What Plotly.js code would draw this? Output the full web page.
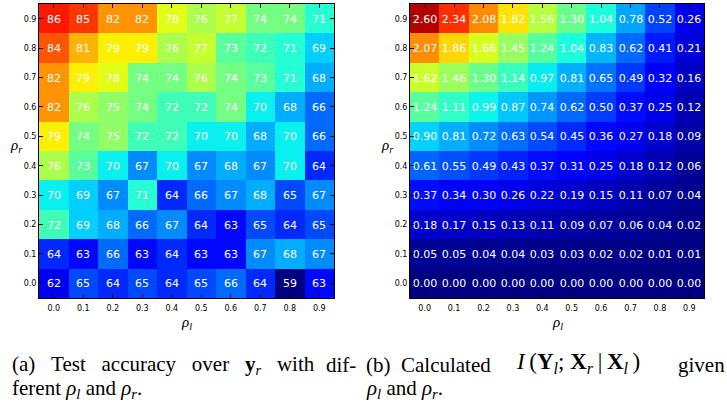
<!DOCTYPE html>
<html>
<head>
<meta charset="utf-8">
<script src="https://cdn.plot.ly/plotly-3.0.1.min.js"></script>
<style>html,body{margin:0;padding:0;background:#fff;}#chart{width:727px;height:404px;}</style>
</head>
<body>
<div id="chart"></div>
<script>
// rho_l values (columns) and rho_r values (rows, listed top to bottom)
var rhoL = [0.0, 0.1, 0.2, 0.3, 0.4, 0.5, 0.6, 0.7, 0.8, 0.9];
var rhoR = [0.9, 0.8, 0.7, 0.6, 0.5, 0.4, 0.3, 0.2, 0.1, 0.0];

// (a) Test accuracy over y_r
var accuracy = [
  [86, 85, 82, 82, 78, 76, 77, 74, 74, 71],
  [84, 81, 79, 79, 76, 77, 73, 72, 71, 69],
  [82, 79, 78, 74, 74, 76, 74, 73, 71, 68],
  [82, 76, 75, 74, 72, 72, 74, 70, 68, 66],
  [79, 74, 75, 72, 72, 70, 70, 68, 70, 66],
  [76, 73, 70, 67, 70, 67, 68, 67, 70, 64],
  [70, 69, 67, 71, 64, 66, 67, 68, 65, 67],
  [72, 69, 68, 66, 67, 64, 63, 65, 64, 65],
  [64, 63, 66, 63, 64, 63, 63, 67, 68, 67],
  [62, 65, 64, 65, 64, 65, 66, 64, 59, 63]
];

// (b) Calculated I(Y_l; X_r | X_l)
var mutualInfo = [
  [2.60, 2.34, 2.08, 1.82, 1.56, 1.30, 1.04, 0.78, 0.52, 0.26],
  [2.07, 1.86, 1.66, 1.45, 1.24, 1.04, 0.83, 0.62, 0.41, 0.21],
  [1.62, 1.46, 1.30, 1.14, 0.97, 0.81, 0.65, 0.49, 0.32, 0.16],
  [1.24, 1.11, 0.99, 0.87, 0.74, 0.62, 0.50, 0.37, 0.25, 0.12],
  [0.90, 0.81, 0.72, 0.63, 0.54, 0.45, 0.36, 0.27, 0.18, 0.09],
  [0.61, 0.55, 0.49, 0.43, 0.37, 0.31, 0.25, 0.18, 0.12, 0.06],
  [0.37, 0.34, 0.30, 0.26, 0.22, 0.19, 0.15, 0.11, 0.07, 0.04],
  [0.18, 0.17, 0.15, 0.13, 0.11, 0.09, 0.07, 0.06, 0.04, 0.02],
  [0.05, 0.05, 0.04, 0.04, 0.03, 0.03, 0.02, 0.02, 0.01, 0.01],
  [0.00, 0.00, 0.00, 0.00, 0.00, 0.00, 0.00, 0.00, 0.00, 0.00]
];

var tickLabels = ['0.0', '0.1', '0.2', '0.3', '0.4', '0.5', '0.6', '0.7', '0.8', '0.9'];

// matplotlib "jet"
var jet = [
  [0, 'rgb(0,0,128)'], [0.11, 'rgb(0,0,255)'], [0.125, 'rgb(0,0,255)'],
  [0.34, 'rgb(0,219,255)'], [0.35, 'rgb(0,230,247)'], [0.375, 'rgb(21,255,226)'],
  [0.64, 'rgb(239,255,8)'], [0.65, 'rgb(247,245,0)'], [0.66, 'rgb(255,236,0)'],
  [0.89, 'rgb(255,19,0)'], [0.91, 'rgb(232,0,0)'], [1, 'rgb(128,0,0)']
];

var cellFont = {family: 'DejaVu Sans', size: 11, color: 'white'};

var traces = [
  {
    type: 'heatmap', x: rhoL, y: rhoR, z: accuracy,
    colorscale: jet, zmin: 59, zmax: 89.5, showscale: false,
    texttemplate: '%{z}', textfont: cellFont, hoverinfo: 'none',
    xaxis: 'x', yaxis: 'y'
  },
  {
    type: 'heatmap', x: rhoL, y: rhoR, z: mutualInfo,
    colorscale: jet, zmin: 0, zmax: 2.72, showscale: false,
    texttemplate: '%{z:.2f}', textfont: cellFont, hoverinfo: 'none',
    xaxis: 'x2', yaxis: 'y2'
  }
];

function ax(domain, anchor) {
  return {
    domain: domain, anchor: anchor, range: [-0.05, 0.95],
    tickvals: rhoL, ticktext: tickLabels,
    ticks: 'inside', ticklen: 4, tickcolor: 'black', tickwidth: 1,
    showline: true, linecolor: 'black', linewidth: 1, mirror: 'ticks',
    showgrid: false, zeroline: false,
    tickfont: {family: 'DejaVu Sans', size: 8, color: 'black'}
  };
}

var yTop = 1 - 4 / 404, yBot = 1 - 298 / 404;
var layout = {
  width: 727, height: 404,
  margin: {l: 0, r: 0, t: 0, b: 0},
  paper_bgcolor: 'white', plot_bgcolor: 'white',
  showlegend: false,
  xaxis: ax([39 / 727, 334 / 727], 'y'),
  yaxis: ax([yBot, yTop], 'x'),
  xaxis2: ax([410 / 727, 704 / 727], 'y2'),
  yaxis2: ax([yBot, yTop], 'x2'),
  annotations: []
};
layout.xaxis.ticklabelstandoff = 2;
layout.xaxis2.ticklabelstandoff = 2;

var serif = {family: 'Liberation Serif', size: 21, color: 'black'};
var mathFont = {family: 'Liberation Serif', size: 23, color: 'black'};
var titleFont = {family: 'Liberation Serif', size: 15, color: 'black'};
function ann(x, y, text, font, xanchor) {
  layout.annotations.push({
    xref: 'paper', yref: 'paper', x: x / 727, y: 1 - y / 404,
    text: text, showarrow: false, font: font,
    xanchor: xanchor || 'center', yanchor: 'middle'
  });
}
// axis titles
ann(186, 323, '<i>ρ<sub>l</sub></i>', titleFont);
ann(557, 323, '<i>ρ<sub>l</sub></i>', titleFont);
ann(16, 146, '<i>ρ<sub>r</sub></i>', titleFont);
ann(387, 146, '<i>ρ<sub>r</sub></i>', titleFont);
// captions
var sp = '\u00a0\u00a0\u00a0';
var th = '\u2009';
ann(10, 365, '(a)' + sp + 'Test' + sp + 'accuracy' + sp + 'over' + sp + '<b>y</b><sub><i>r</i></sub>' + sp + 'with', serif, 'left');
ann(358, 365, 'dif-', serif, 'right');
ann(10, 389, 'ferent <i>ρ<sub>l</sub></i> and <i>ρ<sub>r</sub></i>.', serif, 'left');
ann(364, 365, '(b)\u00a0\u00a0Calculated', serif, 'left');
ann(578, 363, '<i>I</i>' + th + '(<b>Y</b><sub><i>l</i></sub>;\u00a0<b>X</b><sub><i>r</i></sub>' + th + '|' + th + '<b>X</b><sub><i>l</i></sub>' + th + ')', mathFont, 'center');
ann(727, 365, 'given', serif, 'right');
ann(364, 389, '<i>ρ<sub>l</sub></i> and <i>ρ<sub>r</sub></i>.', serif, 'left');

Plotly.newPlot('chart', traces, layout, {staticPlot: true, displayModeBar: false});
</script>
</body>
</html>
